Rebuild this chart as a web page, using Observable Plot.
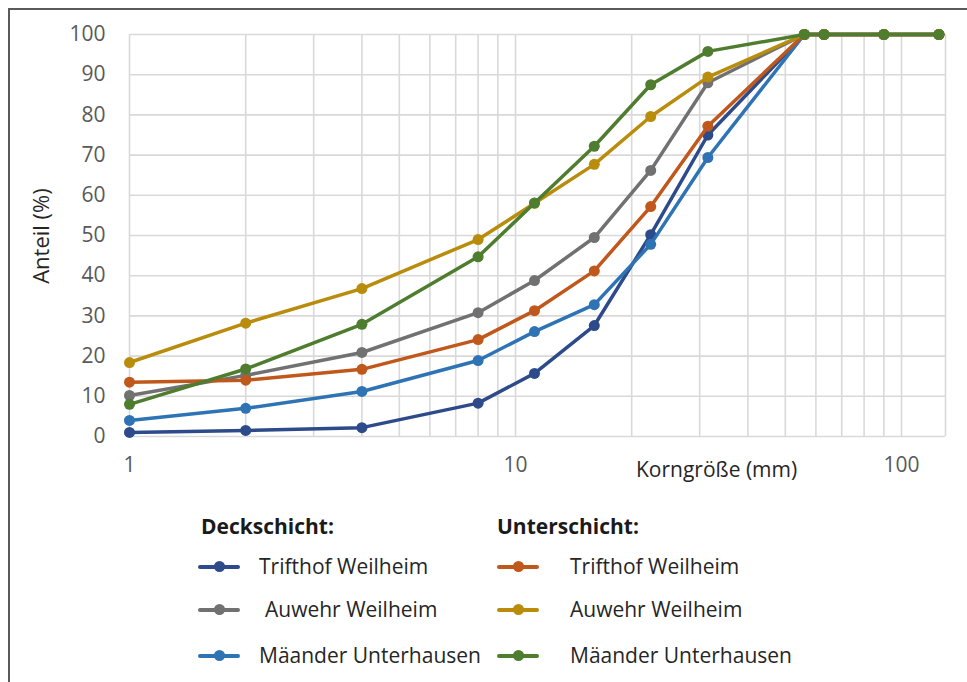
<!DOCTYPE html>
<html>
<head>
<meta charset="utf-8">
<script src="https://cdn.jsdelivr.net/npm/d3@7"></script>
<script src="https://cdn.jsdelivr.net/npm/@observablehq/plot@0.6"></script>
<style>
  html, body { margin: 0; padding: 0; background: #fff; }
  #wrap { position: relative; width: 967px; height: 682px; overflow: hidden; font-family: "Open Sans", sans-serif; }
  #border { position: absolute; left: 8px; top: 8px; width: 1000px; height: 700px; border: 2px solid #5a5a5a; box-sizing: border-box; }
  #chart { position: absolute; left: 0; top: 0; }
  .txt { position: absolute; white-space: nowrap; color: #262626; font-size: 21px; line-height: 1; }
  .ylab { position: absolute; left: 40px; top: 236px; transform: translate(-50%, -50%) rotate(-90deg); font-size: 22px; color: #262626; white-space: nowrap; line-height: 1; }
  .head { font-weight: 700; color: #1a1a1a; }
  .sw { position: absolute; width: 42px; height: 4px; border-radius: 2px; }
  .sw::after { content: ""; position: absolute; left: 16px; top: -4px; width: 11px; height: 11px; border-radius: 50%; background: inherit; }
</style>
</head>
<body>
<div id="wrap">
  <div id="border"></div>
  <div id="chart"></div>
  <div class="ylab">Anteil (%)</div>
  <div class="txt" style="left:636px; top:459px;">Korngröße (mm)</div>
  <div id="legend"></div>
</div>
<script>
// Sieve sizes (mm)
const sizes = [1, 2, 4, 8, 11.2, 16, 22.4, 31.5, 56, 63, 90, 125];

// Deckschicht
const deckTrifthof = [1.0, 1.5, 2.2, 8.3, 15.7, 27.6, 50.2, 75.0, 100, 100, 100, 100];
const deckAuwehr   = [10.2, 15.2, 20.9, 30.8, 38.8, 49.5, 66.2, 88.0, 100, 100, 100, 100];
const deckMaeander = [4.0, 7.0, 11.2, 18.9, 26.1, 32.8, 47.8, 69.4, 100, 100, 100, 100];
// Unterschicht
const unterTrifthof = [13.5, 14.0, 16.7, 24.1, 31.3, 41.2, 57.2, 77.2, 100, 100, 100, 100];
const unterAuwehr   = [18.4, 28.2, 36.8, 49.0, 58.0, 67.7, 79.6, 89.4, 100, 100, 100, 100];
const unterMaeander = [8.0, 16.8, 27.9, 44.7, 58.1, 72.2, 87.5, 95.8, 100, 100, 100, 100];

const names = ["Trifthof Weilheim", "Auwehr Weilheim", "Mäander Unterhausen"];
const layers = ["Deckschicht:", "Unterschicht:"];
const colorsDeck = ["#2d4a8a", "#717171", "#2e74b5"];
const colorsUnter = ["#c0571b", "#b98c0c", "#4f7d2f"];

const series = [
  {layer: 0, name: names[0], color: colorsDeck[0], values: deckTrifthof},
  {layer: 0, name: names[1], color: colorsDeck[1], values: deckAuwehr},
  {layer: 0, name: names[2], color: colorsDeck[2], values: deckMaeander},
  {layer: 1, name: names[0], color: colorsUnter[0], values: unterTrifthof},
  {layer: 1, name: names[1], color: colorsUnter[1], values: unterAuwehr},
  {layer: 1, name: names[2], color: colorsUnter[2], values: unterMaeander}
];

const gridX = [1,2,3,4,5,6,7,8,9,10,20,30,40,50,60,70,80,90,100,130];
const gridY = d3.range(0, 101, 10);
const xTicks = [1, 10, 100];

const marks = [
  Plot.ruleX(gridX, {stroke: "#d9d9d9", strokeWidth: 1.6}),
  Plot.ruleY(gridY, {stroke: "#d9d9d9", strokeWidth: 1.6}),
];
for (const s of series) {
  const rows = sizes.map((x, i) => ({x, y: s.values[i]}));
  marks.push(Plot.line(rows, {x: "x", y: "y", stroke: s.color, strokeWidth: 3.5}));
  marks.push(Plot.dot(rows, {x: "x", y: "y", fill: s.color, r: 5.5}));
}
marks.push(Plot.axisX(xTicks, {tickSize: 0, tickPadding: 21, fontSize: 21, fill: "#595959", tickFormat: d => String(d), label: null}));
marks.push(Plot.axisY(gridY, {tickSize: 0, tickPadding: 24, fontSize: 21, fill: "#595959", label: null}));

const chart = Plot.plot({
  width: 967,
  height: 490,
  marginLeft: 129,
  marginRight: 22,
  marginTop: 34,
  marginBottom: 54,
  style: {fontFamily: "Open Sans, sans-serif", background: "transparent"},
  x: {type: "log", domain: [1, 130]},
  y: {domain: [0, 100]},
  marks
});
document.getElementById("chart").appendChild(chart);

// Legend
const legend = document.getElementById("legend");
const colX = [{sw: 198, tx: 259, head: 201}, {sw: 497, tx: 570, head: 497}];
const rowY = [567, 610, 656];
const textOff = [0, 6, 0];
layers.forEach((l, li) => {
  const h = document.createElement("div");
  h.className = "txt head";
  h.style.left = colX[li].head + "px";
  h.style.top = "516px";
  h.textContent = l;
  legend.appendChild(h);
});
series.forEach((s, i) => {
  const row = i % 3;
  const c = colX[s.layer];
  const sw = document.createElement("div");
  sw.className = "sw";
  sw.style.left = c.sw + "px";
  sw.style.top = (rowY[row] - 2) + "px";
  sw.style.background = s.color;
  legend.appendChild(sw);
  const t = document.createElement("div");
  t.className = "txt";
  t.style.left = (c.tx + (s.layer === 0 ? textOff[row] : 0)) + "px";
  t.style.top = (rowY[row] - 11) + "px";
  t.textContent = s.name;
  legend.appendChild(t);
});
</script>
</body>
</html>
